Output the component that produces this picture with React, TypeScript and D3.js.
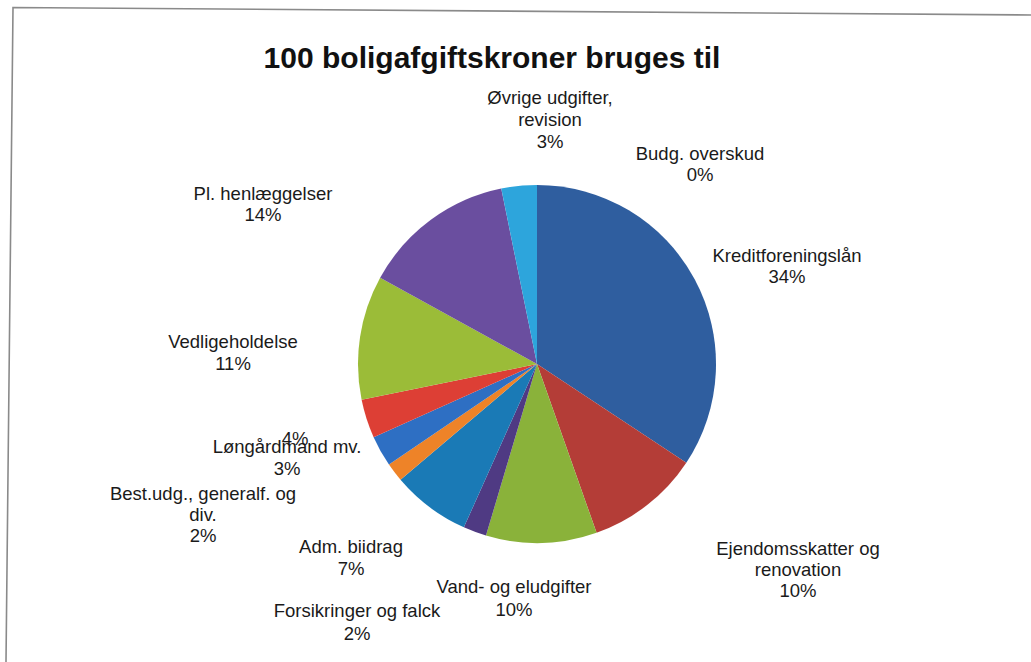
import React from "react";
import * as d3 from "d3";

const categories: string[] = [
  "Kreditforeningslån",
  "Ejendomsskatter og\nrenovation",
  "Vand- og eludgifter",
  "Forsikringer og falck",
  "Adm. biidrag",
  "Best.udg., generalf. og\ndiv.",
  "Løngårdmand mv.",
  "",
  "Vedligeholdelse",
  "Pl. henlæggelser",
  "Øvrige udgifter,\nrevision",
  "Budg. overskud",
];

const values: number[] = [34.3, 10.3, 10.0, 2.1, 7.1, 1.7, 2.8, 3.5, 11.2, 13.8, 3.2, 0];

const colors: string[] = [
  "#2F5E9F",
  "#B43D37",
  "#8AB23A",
  "#4F3A83",
  "#1A7AB6",
  "#EE8328",
  "#2E6FC3",
  "#DD3F35",
  "#9BBC38",
  "#6A4E9F",
  "#2DA5DC",
  "#7F7F7F",
];

const title = "100 boligafgiftskroner bruges til";

// label layout: offset of the label block (center x, first baseline y) from the pie centre
const labelLayout: { dx: number; dy: number; lh: number }[] = [
  { dx: 250, dy: -102, lh: 21 },
  { dx: 261, dy: 191, lh: 21 },
  { dx: -23, dy: 229, lh: 23 },
  { dx: -180, dy: 253, lh: 23 },
  { dx: -186, dy: 189, lh: 22 },
  { dx: -334, dy: 136, lh: 21 },
  { dx: -250, dy: 89, lh: 22 },
  { dx: -242, dy: 81, lh: 22 },
  { dx: -304, dy: -16, lh: 22 },
  { dx: -274, dy: -164, lh: 21 },
  { dx: 13, dy: -260, lh: 22 },
  { dx: 163, dy: -204, lh: 21 },
];

const W = 1031;
const H = 662;
const cx = 537;
const cy = 364;
const R = 179;

export default function App() {
  const pie = d3
    .pie<number>()
    .sort(null)
    .value((d) => d)
    .startAngle(0)
    .endAngle(2 * Math.PI);
  const arcs = pie(values);
  const arcGen = d3.arc<d3.PieArcDatum<number>>().innerRadius(0).outerRadius(R);

  return (
    <svg
      width={W}
      height={H}
      viewBox={`0 0 ${W} ${H}`}
      style={{ position: "fixed", left: 0, top: 0, background: "#fff" }}
      fontFamily="'Liberation Sans', Arial, sans-serif"
    >
      <rect x={0} y={0} width={W} height={H} fill="#ffffff" />
      <polyline
        points={`1031,15 13,7.5 6,662`}
        fill="none"
        stroke="#8a8a8a"
        strokeWidth={1.6}
      />
      <text
        x={492}
        y={68}
        textAnchor="middle"
        fontSize={30}
        fontWeight="bold"
        fill="#111"
      >
        {title}
      </text>
      <g transform={`translate(${cx},${cy})`}>
        {arcs.map((a, i) =>
          a.endAngle - a.startAngle > 0 ? (
            <path key={i} d={arcGen(a) || ""} fill={colors[i]} stroke="none" />
          ) : null
        )}
      </g>
      {arcs.map((a, i) => {
        const lines = categories[i] ? categories[i].split("\n") : [];
        lines.push(`${Math.round(values[i])}%`);
        const L = labelLayout[i];
        return (
          <text
            key={"l" + i}
            x={cx + L.dx}
            y={cy + L.dy}
            textAnchor="middle"
            fontSize={18.5}
            fill="#1a1a1a"
          >
            {lines.map((ln, j) => (
              <tspan key={j} x={cx + L.dx} dy={j === 0 ? 0 : L.lh}>
                {ln}
              </tspan>
            ))}
          </text>
        );
      })}
    </svg>
  );
}
